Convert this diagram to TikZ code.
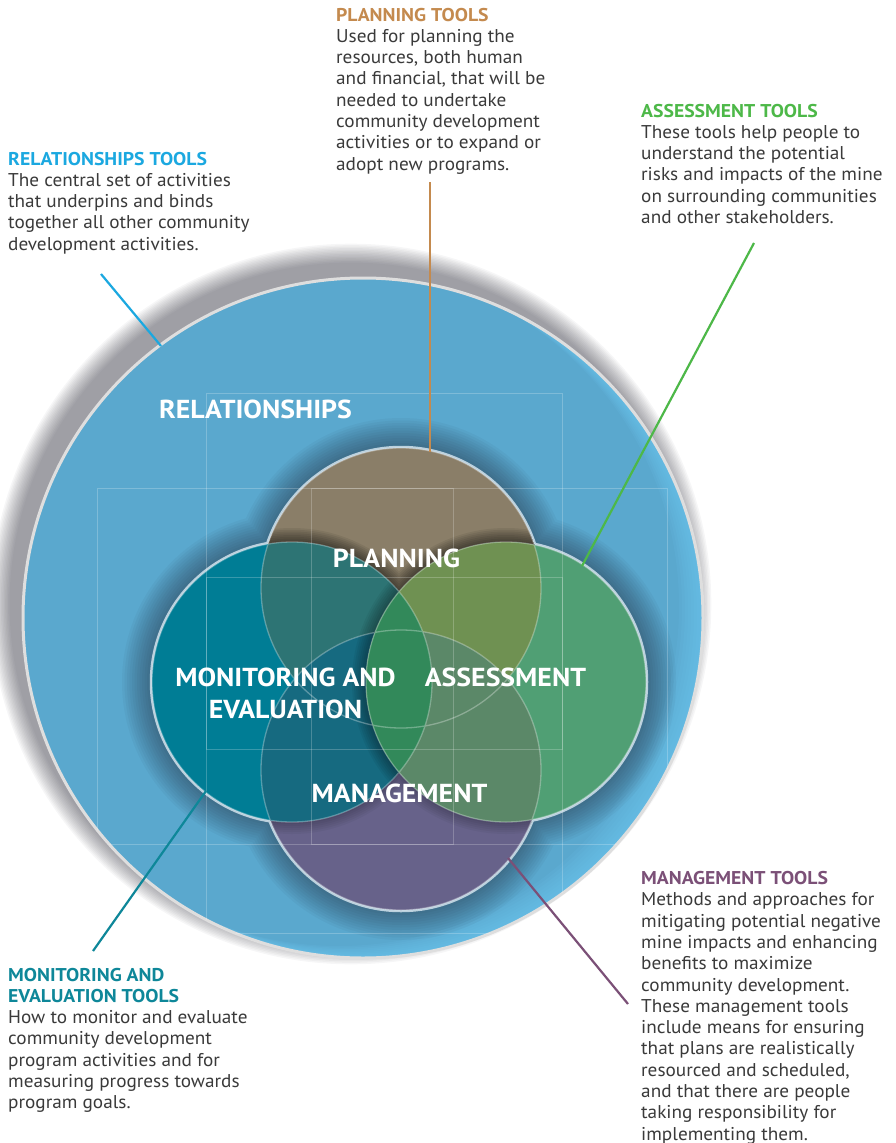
\documentclass[tikz,border=0pt]{standalone}
\usepackage{fontspec}
\setmainfont{PT Sans}[FakeStretch=1.04]
\newfontfamily\headfont{PT Sans Bold}[FakeStretch=1.065]
\newfontfamily\labelfont{PT Sans Bold}[FakeStretch=1.07]
\usetikzlibrary{calc}
\definecolor{relblue}{HTML}{1BA8E0}
\definecolor{plancol}{HTML}{C48A4E}
\definecolor{asscol}{HTML}{4DB848}
\definecolor{moncol}{HTML}{0E8799}
\definecolor{mancol}{HTML}{7B5077}
\definecolor{bodytext}{HTML}{3A3A3A}
\definecolor{bigblue}{HTML}{5AA8CE}
\definecolor{bigbluelight}{HTML}{6CC6EE}
\definecolor{bigborder}{HTML}{DEDEDE}
\definecolor{shadowcol}{HTML}{1A1A28}
\definecolor{ringcol}{HTML}{BBD1DE}
\definecolor{colP}{HTML}{8A7E68}
\definecolor{colG}{HTML}{67628A}
\definecolor{colM}{HTML}{007D95}
\definecolor{colA}{HTML}{509F74}
\definecolor{colPM}{HTML}{2D7474}
\definecolor{colPA}{HTML}{6F9152}
\definecolor{colGM}{HTML}{166A80}
\definecolor{colGA}{HTML}{5B8868}
\definecolor{colMA}{HTML}{32895A}
\newcommand\circBig{(363,618) circle[radius=340pt]}
\newcommand\circP{(401,588) circle[radius=140pt]}
\newcommand\circM{(292,682) circle[radius=140pt]}
\newcommand\circA{(506,682) circle[radius=140pt]}
\newcommand\circG{(401,770) circle[radius=140pt]}
\newcommand\hd[2]{\hbox{\headfont\color{#1}#2}}
\tikzset{
  textblock/.style={anchor=base west, inner sep=0pt, text=bodytext, font=\fontsize{18.5}{21.3}\selectfont},
  biglabel/.style={inner sep=0pt, text=white, font=\labelfont\fontsize{26}{32}\selectfont},
  gridline/.style={white, opacity=0.22, line width=0.9pt},
  connector/.style={line width=2.2pt},
}
\begin{document}
\begin{tikzpicture}[x=1pt,y=-1pt]
\useasboundingbox (0,0) rectangle (895,1143);
\fill[white] (0,0) rectangle (895,1143);

% drop shadow of the big circle
\foreach \i in {1,...,14}{
  \fill[shadowcol, opacity=0.035] (351,604) circle[radius={340pt+1.45pt*\i}];
}
% big circle
\fill[bigblue] \circBig;
\begin{scope}
  \clip \circBig;
  \foreach \d in {3,6,...,24}{
    \fill[bigbluelight, opacity=0.13, even odd rule] \circBig ($(363,618)+(-\d,-0.5*\d)$) circle[radius=340pt];
  }
\end{scope}
\draw[bigborder, line width=3pt] \circBig;

% shadow of the venn group on the blue
\begin{scope}
  \clip \circBig;
  \foreach \i in {1,...,12}{
    \begin{scope}[transparency group, opacity=0.038]
      \fill[shadowcol] \circP \circM \circA \circG;
      \draw[shadowcol, line width={5pt*\i}] \circP \circM \circA \circG;
    \end{scope}
  }
\end{scope}

% outer rings of the venn group
\draw[ringcol, line width=4.5pt] \circP \circM \circA \circG;

% planning
\fill[colP] \circP;
\begin{scope}
  \clip \circP;
  \foreach \i in {1,...,8}{
    \begin{scope}[transparency group, opacity=0.07]
      \fill[black] \circM \circA;
      \draw[black, line width={3.5pt*\i}] \circM \circA;
    \end{scope}
  }
\end{scope}
% management
\fill[colG] \circG;
\begin{scope}
  \clip \circG;
  \foreach \i in {1,...,6}{
    \begin{scope}[transparency group, opacity=0.04]
      \fill[black] \circM \circA;
      \draw[black, line width={4pt*\i}] \circM \circA;
    \end{scope}
  }
\end{scope}
% monitoring
\fill[colM] \circM;
\begin{scope}
  \clip \circM;
  \fill[colPM] \circP;
  \fill[colGM] \circG;
\end{scope}
\begin{scope}
  \clip \circM;
  \foreach \i in {1,...,7}{
    \begin{scope}[transparency group, opacity=0.05]
      \fill[black] \circA;
      \draw[black, line width={4pt*\i}] \circA;
    \end{scope}
  }
\end{scope}
% assessment
\fill[colA] \circA;
\begin{scope}
  \clip \circA;
  \fill[colPA] \circP;
  \fill[colGA] \circG;
  \fill[colMA] \circM;
\end{scope}

% faint inner rings
\draw[white, opacity=0.3, line width=1.3pt] \circP \circM \circA \circG;

% guide squares
\begin{scope}
  \clip \circBig;
  \draw[gridline] (206,393) rectangle (562,749);
  \draw[gridline] (97,488) rectangle (453,844);
  \draw[gridline] (311,488) rectangle (667,844);
  \draw[gridline] (206,577) rectangle (562,933);
\end{scope}

% labels in the circles
\node[biglabel, anchor=base west] (lblRel) at (159,418) {RELATIONSHIPS};
\node[biglabel, anchor=base] (lblPlan) at (396.5,567) {PLANNING};
\node[biglabel, anchor=base] (lblMon) at (285.5,686) {\vtop{\baselineskip=32pt\halign{\hfil#\hfil\cr MONITORING AND\cr EVALUATION\cr}}};
\node[biglabel, anchor=base] (lblAss) at (505.5,686) {ASSESSMENT};
\node[biglabel, anchor=base] (lblMan) at (399.5,802) {MANAGEMENT};

% text blocks
\node[textblock] (txtRel) at (8,165) {\vtop{\hd{relblue}{RELATIONSHIPS TOOLS}\hbox{The central set of activities}\hbox{that underpins and binds}\hbox{together all other community}\hbox{development activities.}}};
\node[textblock] (txtPlan) at (336,21) {\vtop{\hd{plancol}{PLANNING TOOLS}\hbox{Used for planning the}\hbox{resources, both human}\hbox{and financial, that will be}\hbox{needed to undertake}\hbox{community development}\hbox{activities or to expand or}\hbox{adopt new programs.}}};
\node[textblock] (txtAss) at (641,117) {\vtop{\hd{asscol}{ASSESSMENT TOOLS}\hbox{These tools help people to}\hbox{understand the potential}\hbox{risks and impacts of the mine}\hbox{on surrounding communities}\hbox{and other stakeholders.}}};
\node[textblock] (txtMon) at (8,981) {\vtop{\hd{moncol}{MONITORING AND}\hd{moncol}{EVALUATION TOOLS}\hbox{How to monitor and evaluate}\hbox{community development}\hbox{program activities and for}\hbox{measuring progress towards}\hbox{program goals.}}};
\node[textblock] (txtMan) at (641,884.5) {\vtop{\hd{mancol}{MANAGEMENT TOOLS}\hbox{Methods and approaches for}\hbox{mitigating potential negative}\hbox{mine impacts and enhancing}\hbox{benefits to maximize}\hbox{community development.}\hbox{These management tools}\hbox{include means for ensuring}\hbox{that plans are realistically}\hbox{resourced and scheduled,}\hbox{and that there are people}\hbox{taking responsibility for}\hbox{implementing them.}}};

% connectors
\coordinate (relS) at (101,274);
\coordinate (relE) at (161,346);
\coordinate (planS) at (430,182);
\coordinate (planE) at (430,452);
\coordinate (assS) at (754,243);
\coordinate (assE) at (582,566);
\coordinate (monS) at (93,951);
\coordinate (monE) at (206,791);
\coordinate (manS) at (508,858);
\coordinate (manE) at (628,1004);
\draw[connector, relblue] (relS) -- (relE);
\draw[connector, plancol] (planS) -- (planE);
\draw[connector, asscol] (assS) -- (assE);
\draw[connector, moncol] (monS) -- (monE);
\draw[connector, mancol] (manS) -- (manE);
\end{tikzpicture}
\end{document}
